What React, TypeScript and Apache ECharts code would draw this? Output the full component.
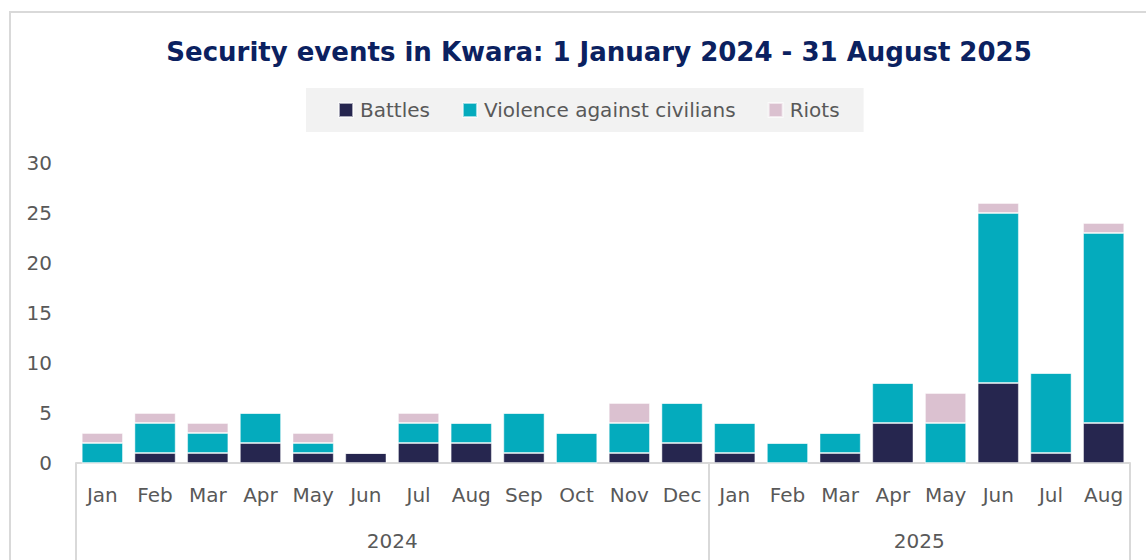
import React, { useEffect, useRef } from "react";
import * as echarts from "echarts";

const months = [
  "Jan", "Feb", "Mar", "Apr", "May", "Jun", "Jul", "Aug", "Sep", "Oct", "Nov", "Dec",
  "Jan", "Feb", "Mar", "Apr", "May", "Jun", "Jul", "Aug",
];
const years = ["2024", "2025"];
const yearStarts = [0, 12, 20];
const battles = [0, 1, 1, 2, 1, 1, 2, 2, 1, 0, 1, 2, 1, 0, 1, 4, 0, 8, 1, 4];
const violence = [2, 3, 2, 3, 1, 0, 2, 2, 4, 3, 3, 4, 3, 2, 2, 4, 4, 17, 8, 19];
const riots = [1, 1, 1, 0, 1, 0, 1, 0, 0, 0, 2, 0, 0, 0, 0, 0, 3, 1, 0, 1];

const FONT = "DejaVu Sans";

export default function App() {
  const ref = useRef<HTMLDivElement>(null);
  useEffect(() => {
    document.body.style.margin = "0";
    const chart = echarts.init(ref.current!, null, { renderer: "svg" });
    const yearCenters = yearStarts.slice(0, -1).map((s, i) => (s + yearStarts[i + 1]) / 2);
    const mkBar = (name: string, data: number[], color: string) => ({
      name,
      type: "bar",
      stack: "total",
      data,
      barWidth: "78%",
      itemStyle: { color, borderColor: "rgba(255,255,255,0.6)", borderWidth: 0.8 },
    });
    chart.setOption({
      animation: false,
      textStyle: { fontFamily: FONT },
      title: {
        text: "Security events in Kwara: 1 January 2024 - 31 August 2025",
        left: 594,
        top: 34,
        textAlign: "center",
        textStyle: { fontFamily: FONT, fontSize: 26, fontWeight: "bold", color: "#0b2160" },
      },
      legend: {
        left: 306,
        top: 88,
        backgroundColor: "#f2f2f2",
        padding: [12, 24, 12, 32],
        itemWidth: 14,
        itemHeight: 14,
        itemGap: 32,
        icon: "rect",
        textStyle: { fontFamily: FONT, fontSize: 20, color: "#595959", padding: [0, 0, 0, 2] },
        data: ["Battles", "Violence against civilians", "Riots"],
      },
      graphic: [
        {
          type: "rect",
          shape: { x: 10, y: 12, width: 1300, height: 700 },
          style: { fill: "none", stroke: "#d9d9d9", lineWidth: 2 },
          silent: true,
        },
      ],
      grid: { left: 76, right: 16, top: 163, bottom: 97 },
      xAxis: [
        {
          type: "category",
          data: months,
          axisLine: { show: true, lineStyle: { color: "#d9d9d9", width: 2 } },
          axisTick: { show: false },
          axisLabel: { fontFamily: FONT, fontSize: 20, color: "#595959", margin: 22, interval: 0 },
        },
        {
          type: "value",
          min: 0,
          max: months.length,
          position: "bottom",
          axisLine: { show: false },
          splitLine: { show: false },
          axisTick: {
            show: true,
            customValues: yearStarts,
            length: 97,
            lineStyle: { color: "#d9d9d9", width: 2 },
          },
          axisLabel: {
            show: true,
            customValues: yearCenters,
            formatter: (v: number) => years[yearCenters.indexOf(v)] ?? "",
            fontFamily: FONT,
            fontSize: 20,
            color: "#595959",
            margin: 68,
          },
        },
      ],
      yAxis: {
        type: "value",
        min: 0,
        max: 30,
        interval: 5,
        axisLine: { show: false },
        axisTick: { show: false },
        splitLine: { show: false },
        axisLabel: { fontFamily: FONT, fontSize: 20, color: "#595959", margin: 24 },
      },
      series: [
        mkBar("Battles", battles, "#26264f"),
        mkBar("Violence against civilians", violence, "#04abbd"),
        mkBar("Riots", riots, "#dbc1d0"),
      ],
    });
    return () => chart.dispose();
  }, []);
  return <div ref={ref} style={{ width: 1146, height: 560 }} />;
}
